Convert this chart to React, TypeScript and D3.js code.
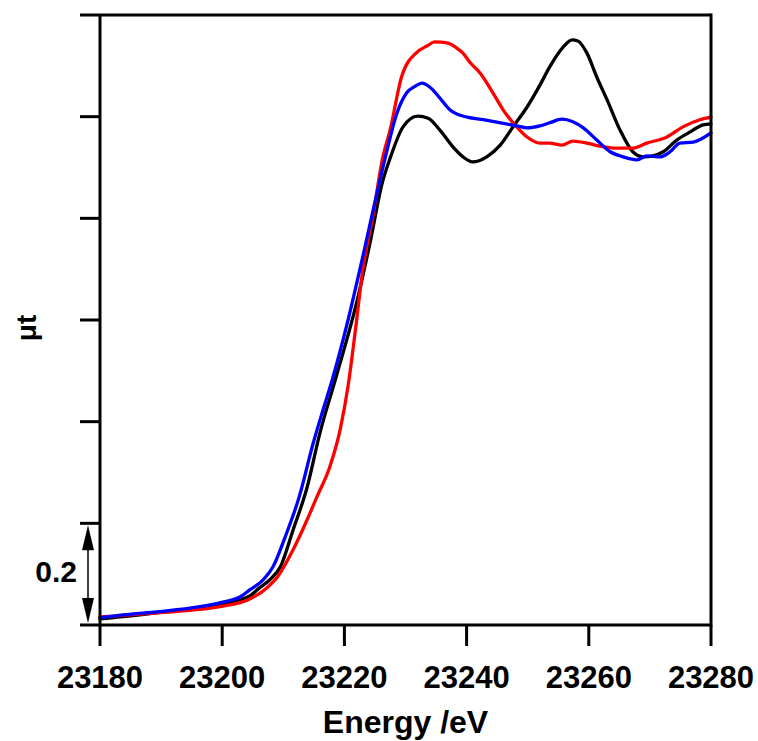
import React from 'react';
import * as d3 from 'd3';

// Energy (eV) and normalised absorption (μt)
const blackSeries: [number, number][] = [
  [23180.0, 0.012], [23189.3, 0.024], [23200.1, 0.041], [23204.5, 0.057], [23206.1, 0.073],
  [23207.8, 0.089], [23209.5, 0.114], [23211.6, 0.187], [23213.9, 0.271], [23216.0, 0.378],
  [23218.5, 0.482], [23222.1, 0.639], [23224.2, 0.752], [23226.2, 0.870], [23227.5, 0.919],
  [23229.6, 0.980], [23232.0, 1.001], [23233.7, 0.997], [23235.6, 0.974], [23237.8, 0.940],
  [23239.4, 0.921], [23241.0, 0.911], [23243.3, 0.921], [23245.5, 0.944], [23247.6, 0.980],
  [23249.9, 1.019], [23252.0, 1.062], [23253.6, 1.098], [23255.8, 1.137], [23257.3, 1.151],
  [23258.2, 1.149], [23259.7, 1.125], [23261.3, 1.078], [23263.0, 1.033], [23265.1, 0.974],
  [23267.2, 0.931], [23268.9, 0.921], [23270.5, 0.923], [23272.2, 0.931], [23274.4, 0.954],
  [23276.6, 0.970], [23278.7, 0.984], [23280.0, 0.986],
];

const redSeries: [number, number][] = [
  [23180.0, 0.016], [23189.3, 0.024], [23200.1, 0.037], [23204.5, 0.051], [23207.3, 0.073],
  [23209.0, 0.094], [23211.6, 0.148], [23213.9, 0.207], [23215.5, 0.252], [23217.6, 0.311],
  [23219.3, 0.384], [23220.6, 0.470], [23221.8, 0.580], [23223.0, 0.698], [23224.7, 0.807],
  [23226.2, 0.915], [23227.5, 0.975], [23229.4, 1.080], [23231.9, 1.127], [23233.5, 1.139],
  [23234.8, 1.147], [23236.8, 1.145], [23238.4, 1.135], [23239.4, 1.125], [23240.6, 1.106],
  [23242.2, 1.086], [23244.3, 1.047], [23246.0, 1.013], [23248.2, 0.980], [23249.9, 0.960],
  [23252.0, 0.948], [23253.6, 0.948], [23255.6, 0.944], [23257.4, 0.952], [23259.7, 0.948],
  [23261.8, 0.942], [23264.6, 0.938], [23267.2, 0.938], [23269.5, 0.948], [23272.8, 0.960],
  [23275.4, 0.980], [23278.2, 0.994], [23280.0, 0.999],
];

const blueSeries: [number, number][] = [
  [23180.0, 0.014], [23183.8, 0.020], [23189.3, 0.026], [23194.7, 0.033], [23200.1, 0.045],
  [23202.9, 0.055], [23204.5, 0.069], [23206.7, 0.089], [23208.3, 0.114], [23210.3, 0.173],
  [23212.6, 0.252], [23214.9, 0.358], [23216.5, 0.423], [23218.0, 0.482], [23220.6, 0.600],
  [23223.0, 0.724], [23224.7, 0.816], [23226.6, 0.915], [23228.6, 1.007], [23230.2, 1.047],
  [23231.6, 1.060], [23232.7, 1.066], [23234.0, 1.058], [23235.6, 1.037], [23237.3, 1.013],
  [23238.1, 1.007], [23240.1, 0.999], [23242.7, 0.994], [23245.5, 0.988], [23248.2, 0.982],
  [23249.9, 0.978], [23252.0, 0.982], [23253.6, 0.988], [23255.6, 0.995], [23257.4, 0.990],
  [23259.1, 0.978], [23261.3, 0.954], [23263.5, 0.931], [23265.6, 0.921], [23267.9, 0.915],
  [23269.5, 0.923], [23271.7, 0.921], [23273.3, 0.931], [23274.9, 0.948], [23277.1, 0.950],
  [23280.0, 0.968],
];

const xTicks = [23180, 23200, 23220, 23240, 23260, 23280];
const yTicks = [0, 0.2, 0.4, 0.6, 0.8, 1.0, 1.2];
const scaleBar = [0, 0.2];

const series = [
  { name: 'black', color: '#000000', data: blackSeries },
  { name: 'red', color: '#ff0000', data: redSeries },
  { name: 'blue', color: '#0000ff', data: blueSeries },
];

const W = 758;
const H = 741;
const margin = { top: 15, right: 47, bottom: 116, left: 100 };
const font = '"Liberation Sans", Arial, sans-serif';

export default function App() {
  const x = d3.scaleLinear().domain([23180, 23280]).range([margin.left, W - margin.right]);
  const y = d3.scaleLinear().domain([0, 1.2]).range([H - margin.bottom, margin.top]);

  const line = d3.line<[number, number]>()
    .x(d => x(d[0]))
    .y(d => y(d[1]))
    .curve(d3.curveMonotoneX);

  const x0 = x.range()[0];
  const x1 = x.range()[1];
  const yBottom = y.range()[0];
  const yTop = y.range()[1];
  const arrowX = x0 - 12;
  const a0 = y(scaleBar[0]);
  const a1 = y(scaleBar[1]);

  return (
    <svg width={W} height={H} style={{ position: 'absolute', left: 0, top: 0, background: '#fff' }}>
      <rect width={W} height={H} fill="#fff" />
      <g fill="none" strokeLinejoin="round" strokeLinecap="round">
        {series.map(s => (
          <path key={s.name} d={line(s.data) ?? ''} stroke={s.color} strokeWidth={3.3} />
        ))}
      </g>

      {/* frame */}
      <g stroke="#000" strokeWidth={3} fill="none">
        <line x1={x0} x2={x0} y1={yTop} y2={yBottom} />
        <line x1={x1} x2={x1} y1={yTop - 1.5} y2={yBottom + 1.5} />
        {yTicks.map(t => (
          <line key={t} x1={x0 - 20} x2={t === 0 || t === 1.2 ? x1 : x0} y1={y(t)} y2={y(t)} />
        ))}
        {xTicks.map(t => (
          <line key={t} x1={x(t)} x2={x(t)} y1={yBottom} y2={yBottom + 21} />
        ))}
      </g>

      {/* 0.2 scale arrow */}
      <line x1={arrowX} x2={arrowX} y1={a1 + 20} y2={a0 - 20} stroke="#000" strokeWidth={1.5} />
      <path d={`M${arrowX},${a1 + 2} L${arrowX - 6},${a1 + 27} L${arrowX + 6},${a1 + 27} Z`} fill="#000" />
      <path d={`M${arrowX},${a0 - 2} L${arrowX - 6},${a0 - 27} L${arrowX + 6},${a0 - 27} Z`} fill="#000" />
      <text x={77} y={582} textAnchor="end" fontFamily={font} fontWeight="bold" fontSize={30}>0.2</text>

      {/* tick labels */}
      {xTicks.map(t => (
        <text key={t} x={x(t)} y={688} textAnchor="middle" fontFamily={font} fontWeight="bold" fontSize={31}>
          {t}
        </text>
      ))}

      <text x={(x0 + x1) / 2} y={733} textAnchor="middle" fontFamily={font} fontWeight="bold" fontSize={32}>
        Energy /eV
      </text>
      <text transform={`translate(36,${(yTop + yBottom) / 2 + 8}) rotate(-90)`} textAnchor="middle"
        fontFamily={font} fontWeight="bold" fontSize={28}>
        μt
      </text>
    </svg>
  );
}
